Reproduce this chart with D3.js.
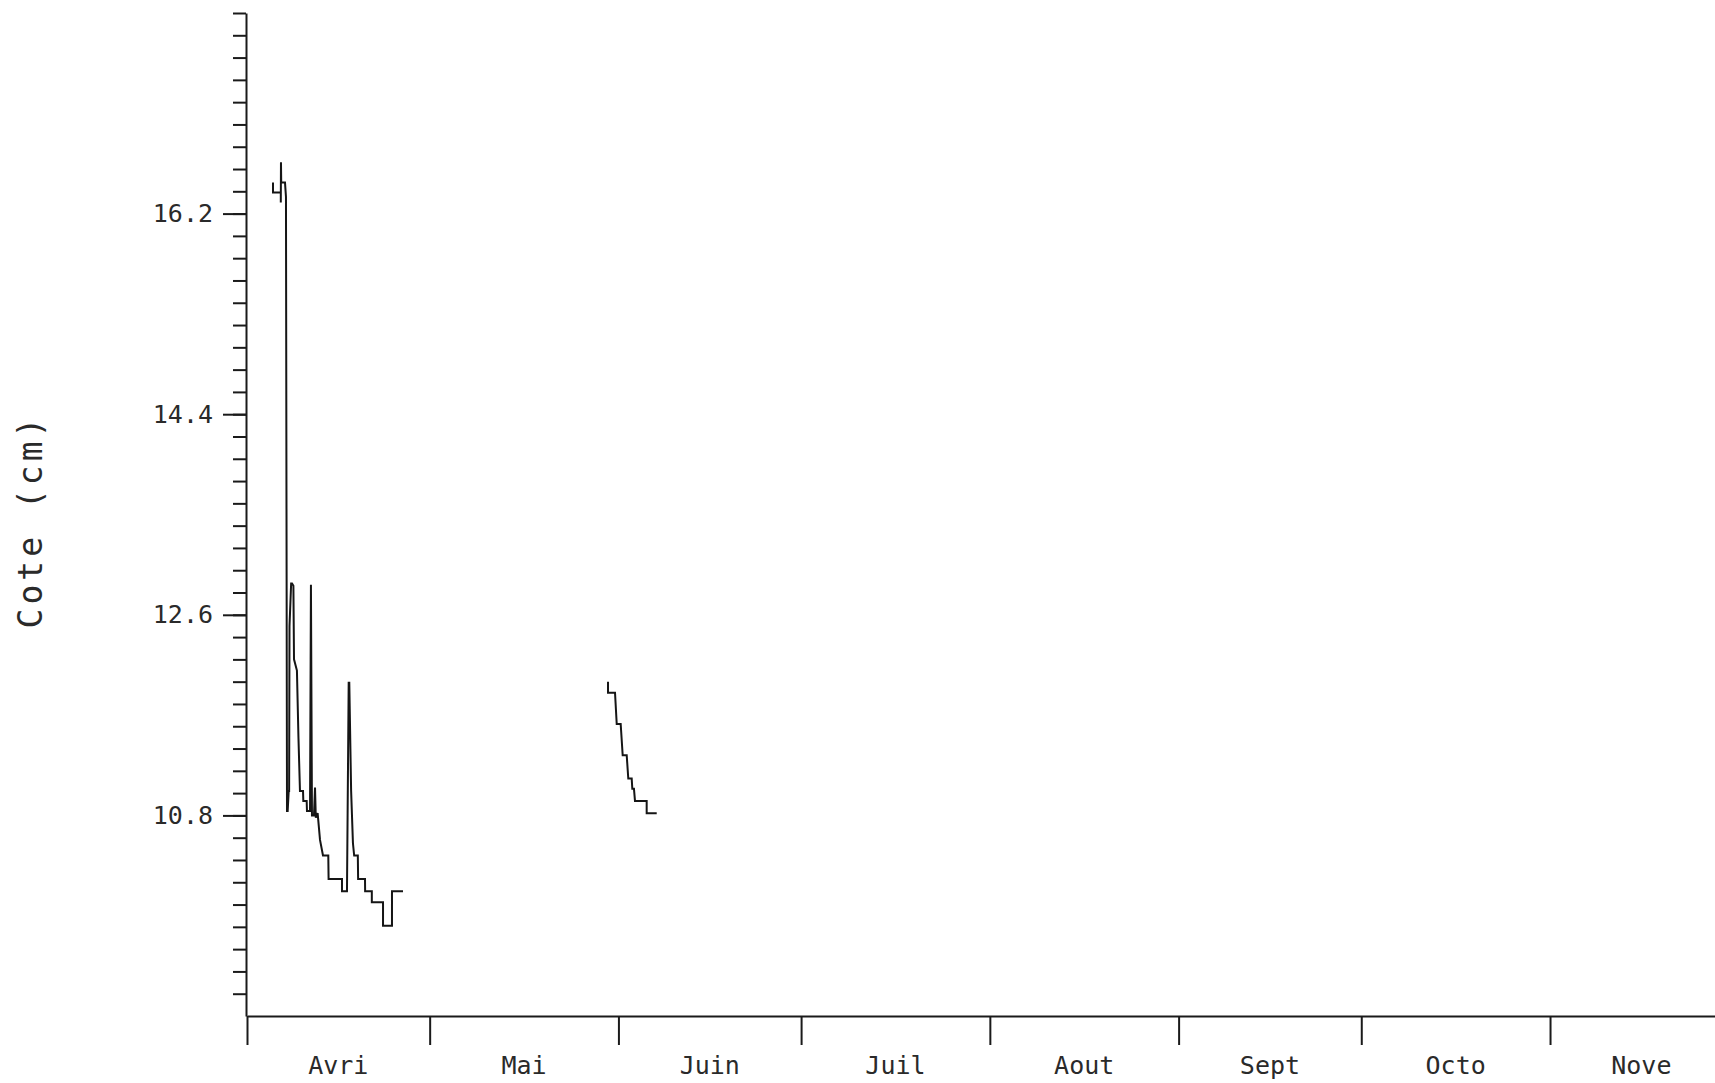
<!DOCTYPE html>
<html>
<head>
<meta charset="utf-8">
<script src="https://cdn.jsdelivr.net/npm/d3@7"></script>
<style>
  html, body { margin: 0; padding: 0; background: #fff; }
  svg { display: block; }
  text { font-family: "DejaVu Sans Mono", "Liberation Mono", monospace; fill: #2a2a2a; }
</style>
</head>
<body>
<svg id="chart" width="1715" height="1083"></svg>
<script>
// Water level record (cote, cm); time as fractional days counted from 1 April 00:00.
const aprilDays = [4.27, 4.27, 5.55, 5.55, 5.58, 5.62, 6.24, 6.40, 6.57, 6.68, 6.85, 6.92, 6.98, 7.25, 7.40, 7.62,
  7.72, 8.20, 8.45, 8.70, 9.20, 9.25, 9.80, 9.85, 10.35, 10.50, 10.67, 11.00, 11.17, 11.30, 11.60, 11.99,
  12.48, 13.35, 13.40, 15.60, 15.60, 16.42, 16.70, 16.80, 17.10, 17.40, 17.60, 18.20, 18.25, 19.38, 19.40,
  20.50, 20.50, 22.34, 22.34, 23.81, 23.81, 25.62];
const aprilLevels = [16.48, 16.39, 16.39, 16.30, 16.66, 16.48, 16.48, 16.35, 10.84, 10.84, 11.02, 11.02, 12.50, 12.88, 12.88, 12.86,
  12.20, 12.10, 11.50, 11.02, 11.02, 10.93, 10.93, 10.84, 10.84, 12.87, 10.80, 10.80, 11.05, 10.78, 10.82, 10.58,
  10.44, 10.44, 10.23, 10.23, 10.12, 10.12, 11.99, 11.99, 11.02, 10.55, 10.44, 10.44, 10.23, 10.23, 10.12,
  10.12, 10.02, 10.02, 9.81, 9.81, 10.12, 10.12];

const juneDays = [59.29, 59.29, 60.44, 60.72, 61.37, 61.70, 62.36, 62.62, 63.18, 63.28, 63.55, 63.72, 65.64, 65.64, 67.29];
const juneLevels = [12.00, 11.90, 11.90, 11.62, 11.62, 11.34, 11.34, 11.13, 11.13, 11.04, 11.04, 10.93, 10.93, 10.82, 10.82];

const monthLabels = ["Avri", "Mai", "Juin", "Juil", "Aout", "Sept", "Octo", "Nove"];
const levelTicks = d3.range(46, 91).map(i => i / 5);      // 9.2 ... 18.0
const levelLabels = [10.8, 12.6, 14.4, 16.2];
const yTitle = "Cote (cm)";

const svg = d3.select("#chart");
const start = new Date(Date.UTC(1990, 3, 1));
const end = new Date(Date.UTC(1990, 11, 1));
const dayToDate = d => new Date(start.getTime() + d * 864e5);

const x = d3.scaleUtc().domain([start, end]).range([247, 1732.7]);
const y = d3.scaleLinear().domain([9.0, 18.0]).range([1016, 13]);

const axisColor = "#1a1a1a";

// Y axis: short ticks every 0.2, longer labelled ticks every 1.8
const gyMinor = svg.append("g").attr("transform", "translate(246,0)")
  .call(d3.axisLeft(y).tickValues(levelTicks).tickSize(13).tickSizeOuter(0).tickFormat(""));
const gyMajor = svg.append("g").attr("transform", "translate(246,0)")
  .call(d3.axisLeft(y).tickValues(levelLabels).tickSize(23).tickPadding(10).tickFormat(d3.format(".1f")));
gyMajor.select(".domain").remove();
[gyMinor, gyMajor].forEach(g => {
  g.selectAll("path, line").attr("stroke", axisColor).attr("stroke-width", 2);
  g.selectAll("text").attr("font-size", 25).attr("font-family", "DejaVu Sans Mono").attr("fill", "#2a2a2a");
});

// X axis: month boundaries with labels centred in each month
const gx = svg.append("g").attr("transform", "translate(0,1016)")
  .call(d3.axisBottom(x).ticks(d3.utcMonth.every(1)).tickSize(29).tickSizeOuter(0).tickFormat(""));
gx.selectAll("path, line").attr("stroke", axisColor).attr("stroke-width", 2);

const monthStarts = d3.utcMonths(start, end);
svg.append("g").selectAll("text")
  .data(monthStarts)
  .join("text")
  .attr("x", (d, i) => (x(d) + x(d3.utcMonth.offset(d, 1))) / 2)
  .attr("y", 1074)
  .attr("text-anchor", "middle")
  .attr("font-size", 25)
  .text((d, i) => monthLabels[i]);

// Axis title
svg.append("text")
  .attr("transform", "translate(42,521) rotate(-90)")
  .attr("text-anchor", "middle")
  .attr("font-size", 33)
  .attr("letter-spacing", 4)
  .text(yTitle);

// Level traces
const line = d3.line()
  .x(d => x(dayToDate(d[0])))
  .y(d => y(d[1]));

const traces = [
  d3.zip(aprilDays, aprilLevels),
  d3.zip(juneDays, juneLevels)
];

svg.append("g").selectAll("path")
  .data(traces)
  .join("path")
  .attr("d", line)
  .attr("fill", "none")
  .attr("stroke", "#151515")
  .attr("stroke-width", 2)
  .attr("stroke-linejoin", "miter");
</script>
</body>
</html>
